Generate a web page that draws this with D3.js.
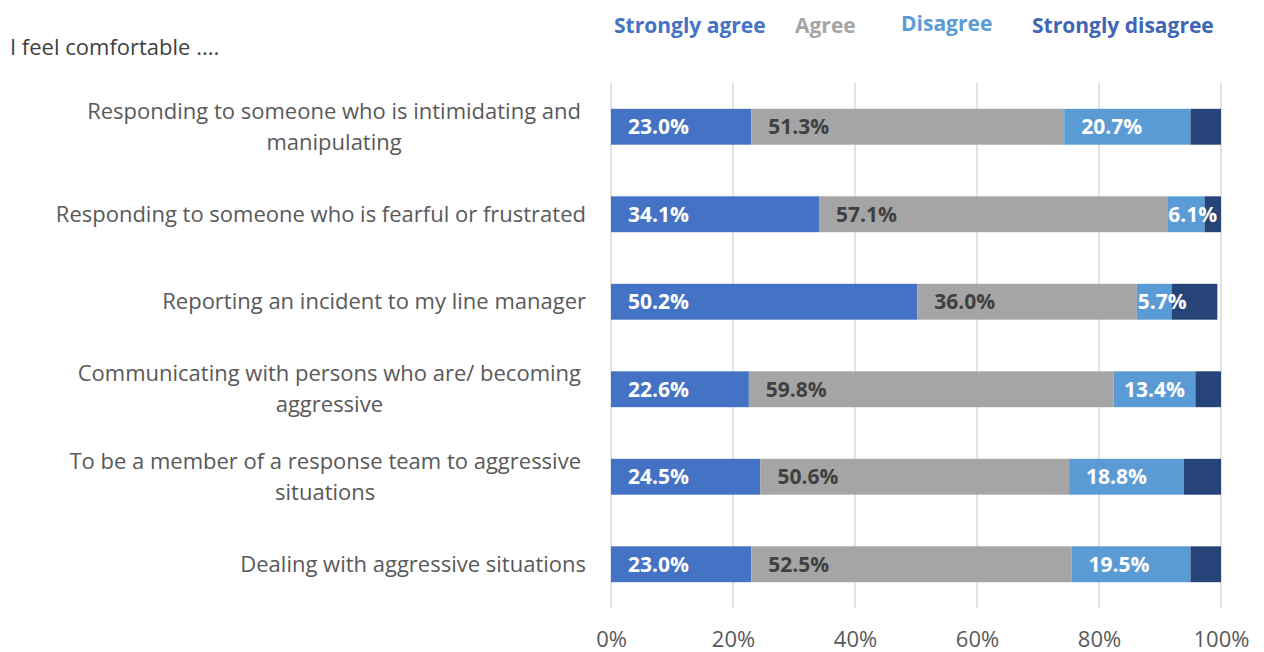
<!DOCTYPE html>
<html>
<head>
<meta charset="utf-8">
<script src="https://cdn.jsdelivr.net/npm/d3@7"></script>
<style>
  html, body { margin: 0; padding: 0; background: #fff; }
  svg { display: block; }
</style>
</head>
<body>
<svg id="chart" width="1264" height="652"></svg>
<script>
// Survey statements (line breaks mark where the label wraps)
const categories = [
  "Responding to someone who is intimidating and\nmanipulating",
  "Responding to someone who is fearful or frustrated",
  "Reporting an incident to my line manager",
  "Communicating with persons who are/ becoming\naggressive",
  "To be a member of a response team to aggressive\nsituations",
  "Dealing with aggressive situations"
];
const seriesNames = ["Strongly agree", "Agree", "Disagree", "Strongly disagree"];
const stronglyAgree    = [23.0, 34.1, 50.2, 22.6, 24.5, 23.0];
const agree            = [51.3, 57.1, 36.0, 59.8, 50.6, 52.5];
const disagree         = [20.7, 6.1, 5.7, 13.4, 18.8, 19.5];
const stronglyDisagree = [5.0, 2.7, 7.5, 4.2, 6.1, 5.0];
const xTicks = [0, 20, 40, 60, 80, 100];
const titleText = "I feel comfortable ....";

const colors = ["#4472C4", "#A5A5A5", "#5B9BD5", "#264478"];
const legendColors = ["#4472C4", "#A5A5A5", "#5B9BD5", "#3F66B5"];
const labelColors = ["#ffffff", "#404040", "#ffffff", null];

const FONT = "'Open Sans', 'DejaVu Sans', sans-serif";
const svg = d3.select("#chart");

const margin = { left: 611, right: 44, top: 83, bottom: 44 };
const W = 1264, H = 652;

const rows = categories.map((c, i) => ({
  cat: c,
  "Strongly agree": stronglyAgree[i],
  "Agree": agree[i],
  "Disagree": disagree[i],
  "Strongly disagree": stronglyDisagree[i]
}));

const x = d3.scaleLinear().domain([0, 100]).range([margin.left, W - margin.right + 1]);
const y = d3.scaleBand().domain(categories).range([margin.top, H - margin.bottom]).paddingInner(0.59).paddingOuter(0.295);

// Vertical gridlines
svg.append("g").selectAll("line").data(xTicks).join("line")
  .attr("x1", d => x(d)).attr("x2", d => x(d))
  .attr("y1", margin.top).attr("y2", H - margin.bottom)
  .attr("stroke", "#d9d9d9").attr("stroke-width", 1.5);

// X axis tick labels
const xAxis = d3.axisBottom(x).tickValues(xTicks).tickFormat(d => d + "%").tickSize(0).tickPadding(0);
const gx = svg.append("g").attr("transform", `translate(0, ${H - 12})`).call(xAxis);
gx.select(".domain").remove();
gx.selectAll("text").attr("font-family", FONT).attr("font-size", 22).attr("fill", "#595959").attr("dy", "0.32em").attr("y", 0);

// Stacked bars
const stack = d3.stack().keys(seriesNames);
const stacked = stack(rows);

const groups = svg.append("g").selectAll("g").data(stacked).join("g")
  .attr("fill", (d, i) => colors[i]);

groups.selectAll("rect").data(d => d).join("rect")
  .attr("x", d => x(d[0]))
  .attr("width", d => x(d[1]) - x(d[0]))
  .attr("y", d => y(d.data.cat))
  .attr("height", y.bandwidth());

// Value labels for the first three series
stacked.forEach((s, si) => {
  if (!labelColors[si]) return;
  const g = svg.append("g");
  s.forEach(d => {
    const val = d.data[s.key];
    const t = g.append("text")
      .attr("font-family", FONT).attr("font-weight", 700).attr("font-size", 21)
      .attr("fill", labelColors[si])
      .attr("y", y(d.data.cat) + y.bandwidth() / 2)
      .attr("dy", "0.35em")
      .text(val.toFixed(1) + "%");
    const lw = t.node().getComputedTextLength();
    const segW = x(d[1]) - x(d[0]);
    const pad = Math.max(1, Math.min(17, (segW - lw) / 2));
    t.attr("x", x(d[0]) + pad);
  });
});

// Category labels
const catG = svg.append("g");
categories.forEach(c => {
  const lines = c.split("\n");
  const cy = y(c) + y.bandwidth() / 2;
  const lh = 31;
  const t = catG.append("text")
    .attr("font-family", FONT).attr("font-size", 22).attr("fill", "#595959");
  if (lines.length === 1) {
    t.attr("text-anchor", "end").attr("x", 586).attr("y", cy).attr("dy", "0.35em").text(lines[0]);
  } else {
    const spans = lines.map((l, i) => t.append("tspan").text(l)
      .attr("y", cy + (i - (lines.length - 1) / 2) * lh).attr("dy", "0.35em"));
    const maxW = d3.max(spans, s => s.node().getComputedTextLength());
    const cx = 581 - maxW / 2;
    t.attr("text-anchor", "middle");
    spans.forEach(s => s.attr("x", cx));
  }
});

// Title
svg.append("text").attr("x", 10).attr("y", 47).attr("dy", "0.35em")
  .attr("font-family", FONT).attr("font-size", 22).attr("fill", "#404040")
  .text(titleText);

// Legend
const legendX = [614, 795, 901, 1032];
const legendY = [26, 26, 24, 26];
svg.append("g").selectAll("text").data(seriesNames).join("text")
  .attr("x", (d, i) => legendX[i]).attr("y", (d, i) => legendY[i]).attr("dy", "0.35em")
  .attr("font-family", FONT).attr("font-weight", 700).attr("font-size", 21)
  .attr("fill", (d, i) => legendColors[i])
  .text(d => d);
</script>
</body>
</html>
